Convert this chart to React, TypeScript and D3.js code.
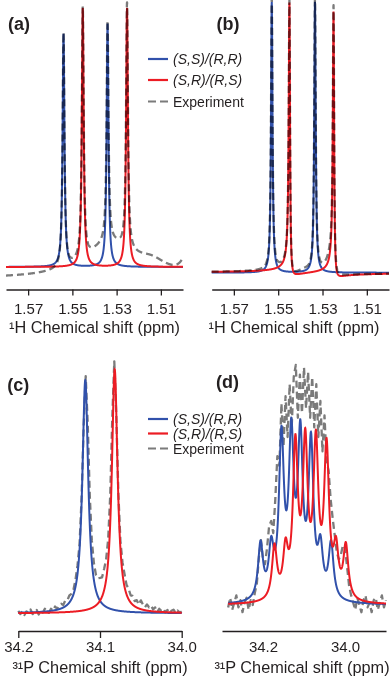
import React, { useRef, useEffect } from 'react';
import * as d3 from 'd3';

type Peak = [number, number, number, number?]; // ppm, height (% of panel max), width (ppm), dispersive part

const BLUE = '#3151ab';
const RED = '#ec1c24';
const GRAY = '#7b7b7b';
const INK = '#231f20';
const FONT = '"Liberation Sans", Arial, Helvetica, sans-serif';

const legendLabels = ['(S,S)/(R,R)', '(S,R)/(R,S)', 'Experiment'];

// (a) 1H, first conformer set
const aTicks = [1.57, 1.55, 1.53, 1.51];
const aSS: Peak[] = [[1.554, 90, 0.001], [1.5341, 94, 0.001]];
const aSR: Peak[] = [[1.5453, 100, 0.001], [1.5253, 100, 0.001]];
const aExp: Peak[] = [
  [1.554, 90.5, 0.001], [1.5453, 97, 0.001], [1.5341, 85.6, 0.001], [1.5253, 95, 0.001],
  [1.533, 13, 0.028], [1.514, 4, 0.016], [1.4985, 7, 0.005],
];
const aExpOffset = -4.5;

// (b) 1H, second set
const bTicks = [1.57, 1.55, 1.53, 1.51];
const bSS: Peak[] = [[1.5529, 100, 0.0008], [1.5334, 100, 0.0008]];
const bSR: Peak[] = [[1.5449, 98.5, 0.0007, 0.2], [1.525, 96, 0.0007, 0.2]];
const bExpExtra: Peak[] = [[1.5265, 3, 0.004], [1.5385, 1.2, 0.008]];

// (c) 31P, singlets
const cTicks = [34.2, 34.1, 34.0];
const cSS: Peak[] = [[34.118, 94, 0.0086]];
const cSR: Peak[] = [[34.082, 98.4, 0.0084]];
const cExp: Peak[] = [[34.1175, 94, 0.0092], [34.0825, 100, 0.009]];
const cExpStart = 34.2;
const cExpStep = 0.0025;
const cExpBaseline = [
  0.5, -0.8, 0.3, -1.2, 0.2, -0.6, 0.9, -1.0, -0.3, 0.6, -1.3, 0.1, -0.7, 0.8, -0.4, -1.1,
  0.4, -0.5, 1.0, -0.2, 0.6, 1.2, 0.3, 1.5, 0.8, 1.8, 1.0, 0.6, 1.4, 2.0, 1.2,
  2.5, 1.5, 0.0, 1.8, 2.2, 1.0, 0.8, 0.5, 1.2, 2.0, 1.5, 2.6, 1.8, 0.9, 0.5, 0.3, 0.0, 1.5, 2.2, 1.6,
  2.8, 3.5, 2.4, 3.0, 1.8, 2.6, 1.2, 2.2, 0.8, 2.9, 1.5, 0.6, 2.0, 1.0, 1.8, 0.4, 1.3, -0.5, 0.9, 0.2,
  1.1, -0.3, 0.7, -0.6, 0.4, 0.9, -0.4, 0.6, -0.2, 0.3,
];

// (d) 31P, coupled multiplets
const dTicks = [34.2, 34.0];
const dSSppm = [34.206, 34.18, 34.155, 34.131, 34.109, 34.083, 34.06, 34.034];
const dSSheight = [23, 19.5, 65, 64, 64, 63, 19.5, 23];
const dSRppm = [34.172, 34.145, 34.121, 34.097, 34.071, 34.045, 34.022, 33.998];
const dSRheight = [22, 19, 62, 62, 62, 61, 19, 22];
const dWidth = 0.0145;
const dExpStart = 34.285;
const dExpStep = 0.005;
const dExp = [
  -1, 3, -2, 1, 4, -1, 2, -3, 1, 3, -2, 2, 0, 5, 9, 20, 27, 19, 17, 24, 33, 35, 30, 44, 62, 58,
  84, 66, 87, 70, 92, 74, 95, 100, 78, 96, 80, 99, 82, 97, 78, 95, 74, 92, 70, 85, 64, 79, 60, 56,
  44, 36, 29, 22, 19, 21, 25, 24, 16, 8, 4, 1, -2, 3, 0, -3, 2, 4, -1, 1, -3, 2, 3, -2, 1, 4, -1, 2,
];

function lineshape(peaks: Peak[], offset = 0) {
  return (v: number) =>
    offset +
    d3.sum(peaks, ([p, h, w, disp = 0]) => {
      const u = (2 * (v - p)) / w;
      return (h * (1 + disp * u)) / (1 + u * u);
    });
}

function multiplet(ppm: number[], height: number[], w: number): Peak[] {
  return ppm.map((p, i) => [p, height[i], w] as Peak);
}

function drawPanel(svg: any, cfg: any) {
  const x = d3.scaleLinear().domain(cfg.xDomain).range(cfg.xRange);
  const y = d3.scaleLinear().domain([0, 100]).range(cfg.yRange);
  const [lo, hi] = cfg.lineDomain || cfg.xDomain;
  const grid = d3.range(lo, hi, (hi - lo) / 1800).concat([hi]);

  const axis = svg.append('g')
    .attr('transform', `translate(0,${cfg.axisY})`)
    .call(d3.axisBottom(x)
      .tickValues(cfg.ticks)
      .tickFormat(d3.format(cfg.fmt))
      .tickSize(cfg.tickSize)
      .tickSizeOuter(0)
      .tickPadding(cfg.pad));
  axis.select('.domain').attr('stroke', INK).attr('stroke-width', 1.3);
  axis.selectAll('.tick line').attr('stroke', INK).attr('stroke-width', 1.3);
  axis.selectAll('.tick text')
    .attr('fill', INK)
    .style('font-family', FONT)
    .style('font-size', '15px');

  const line = (f: (v: number) => number) =>
    d3.line<number>().x(v => x(v)).y(v => y(f(v)))(grid);

  const drawExp = () => {
    let d: string | null;
    if (cfg.expValues) {
      d = d3.line<number>()
        .x((_, i) => x(cfg.expStart - i * cfg.expStep))
        .y(v => y(v))(cfg.expValues);
    } else {
      d = line(cfg.exp);
    }
    svg.append('path')
      .attr('d', d)
      .attr('fill', 'none')
      .attr('stroke', GRAY)
      .attr('stroke-width', 2.3)
      .attr('stroke-linejoin', 'round')
      .attr('stroke-dasharray', '7,4')
      .style('mix-blend-mode', 'multiply');
  };

  if (!cfg.expOnTop) drawExp();
  svg.append('path').attr('d', line(cfg.ss)).attr('fill', 'none').attr('stroke', BLUE).attr('stroke-width', 2);
  svg.append('path').attr('d', line(cfg.sr)).attr('fill', 'none').attr('stroke', RED).attr('stroke-width', 2);
  if (cfg.expOnTop) drawExp();

  svg.append('text')
    .attr('x', cfg.labelXY[0]).attr('y', cfg.labelXY[1])
    .style('font-family', FONT).style('font-size', '18px').style('font-weight', 'bold')
    .attr('fill', INK)
    .text(cfg.label);

  svg.append('text')
    .attr('x', cfg.titleXY[0]).attr('y', cfg.titleXY[1])
    .attr('text-anchor', 'middle')
    .style('font-family', FONT).style('font-size', '16.3px')
    .attr('fill', INK)
    .text(cfg.title);
}

function drawLegend(svg: any, ys: number[]) {
  const colors = [BLUE, RED, GRAY];
  ys.forEach((yy, i) => {
    svg.append('line')
      .attr('x1', 148).attr('x2', 168).attr('y1', yy).attr('y2', yy)
      .attr('stroke', colors[i]).attr('stroke-width', 2.2)
      .attr('stroke-dasharray', i === 2 ? '8,4' : null);
    svg.append('text')
      .attr('x', 173).attr('y', yy + 5)
      .style('font-family', FONT).style('font-size', '14px')
      .style('font-style', i === 2 ? 'normal' : 'italic')
      .attr('fill', INK)
      .text(legendLabels[i]);
  });
}

function App() {
  const svgRef = useRef<SVGSVGElement>(null);

  useEffect(() => {
    const svg = d3.select(svgRef.current);
    svg.selectAll('*').remove();

    drawPanel(svg, {
      label: '(a)', labelXY: [8, 29.6],
      title: '¹H Chemical shift (ppm)', titleXY: [94.5, 332.5],
      xDomain: [1.58, 1.5], xRange: [6, 183], yRange: [267, 8],
      axisY: 289.5, ticks: aTicks, fmt: '.2f', tickSize: 6, pad: 7.8,
      ss: lineshape(aSS), sr: lineshape(aSR), exp: lineshape(aExp, aExpOffset), expOnTop: true,
    });

    drawPanel(svg, {
      label: '(b)', labelXY: [216.5, 29.6],
      title: '¹H Chemical shift (ppm)', titleXY: [294, 332.5],
      xDomain: [1.58, 1.5], xRange: [211.7, 389], yRange: [272.7, 2],
      axisY: 289.5, ticks: bTicks, fmt: '.2f', tickSize: 6, pad: 7.8,
      ss: lineshape(bSS), sr: lineshape(bSR), exp: lineshape([...bSS, ...bSR, ...bExpExtra]), expOnTop: true,
    });

    const cExpShape = lineshape(cExp);
    drawPanel(svg, {
      label: '(c)', labelXY: [7.3, 391.3],
      title: '³¹P Chemical shift (ppm)', titleXY: [100, 673],
      xDomain: [34.2, 34.0], xRange: [18.3, 181.7], yRange: [613.3, 365.3],
      axisY: 631, ticks: cTicks, fmt: '.1f', tickSize: 7, pad: 2.9,
      ss: lineshape(cSS), sr: lineshape(cSR),
      expValues: cExpBaseline.map((b, i) => b + cExpShape(cExpStart - i * cExpStep)),
      expStart: cExpStart, expStep: cExpStep, expOnTop: false,
    });

    drawPanel(svg, {
      label: '(d)', labelXY: [216, 388],
      title: '³¹P Chemical shift (ppm)', titleXY: [302, 673],
      xDomain: [34.3, 33.9], xRange: [222, 386], yRange: [605, 365],
      lineDomain: [34.285, 33.9],
      axisY: 631, ticks: dTicks, fmt: '.1f', tickSize: 0, pad: 9.9,
      ss: lineshape(multiplet(dSSppm, dSSheight, dWidth)),
      sr: lineshape(multiplet(dSRppm, dSRheight, dWidth)),
      expValues: dExp, expStart: dExpStart, expStep: dExpStep, expOnTop: false,
    });

    drawLegend(svg, [59, 80, 101.5]);
    drawLegend(svg, [419, 433.5, 448.5]);
  }, []);

  return (
    <svg
      ref={svgRef}
      width={392}
      height={682}
      style={{ position: 'absolute', left: 0, top: 0, background: '#fff' }}
    />
  );
}

export default App;
